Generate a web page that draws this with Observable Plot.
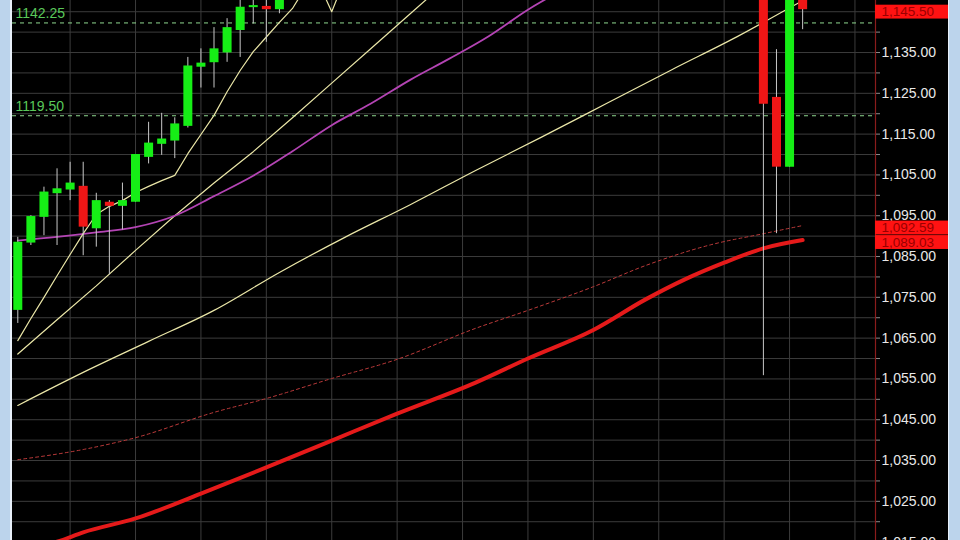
<!DOCTYPE html>
<html><head><meta charset="utf-8">
<script src="https://cdn.jsdelivr.net/npm/d3@7"></script>
<script src="https://cdn.jsdelivr.net/npm/@observablehq/plot@0.6"></script>
<style>
html,body{margin:0;padding:0;background:#bcd4ec;}
#wrap{width:960px;height:540px;box-sizing:border-box;padding-left:10px;padding-right:11px;background:#bcd4ec;overflow:hidden;}
#chart{border-left:2px solid #e8f0fa;border-right:1px solid #e8f0fa;height:540px;background:#000;}
#chart svg{display:block}
</style></head><body><div id="wrap"><div id="chart"></div></div>
<script>
// ---- candles (bar index, OHLC) ----
const candleIdx = [0,1,2,3,4,5,6,7,8,9,10,11,12,13,14,15,16,17,18,19,20,57,58,59,60];
const candleOpen  = [1071.8,1088.3,1094.6,1100.4,1101.3,1102.2,1091.8,1098.3,1097.3,1098.3,1109.3,1112.5,1113.3,1116.9,1131.4,1132.5,1134.9,1140.4,1146.0,1146.3,1145.5,1164.0,1124.0,1106.9,1152.0];
const candleHigh  = [1089.7,1095.0,1102.0,1106.5,1108.1,1108.1,1100.5,1098.7,1103.0,1110.0,1117.9,1120.1,1119.0,1133.8,1135.9,1141.1,1143.3,1148.2,1149.0,1149.0,1150.0,1167.0,1135.7,1160.0,1156.0];
const candleLow   = [1068.6,1087.7,1090.1,1087.7,1098.7,1085.2,1087.3,1080.5,1091.5,1098.3,1107.7,1109.8,1109.0,1116.5,1126.3,1126.3,1132.6,1133.8,1142.0,1137.5,1144.5,1055.8,1090.6,1106.9,1140.6];
const candleClose = [1088.5,1094.8,1100.8,1101.6,1103.0,1092.2,1098.7,1097.3,1098.7,1110.0,1112.8,1113.8,1117.5,1131.7,1132.4,1135.9,1141.1,1146.1,1146.5,1145.5,1148.5,1122.3,1106.9,1155.0,1145.5];

// ---- moving averages (bar index, value) ----
const fastIdx = [0,1,2,3,4,5,6,7,8,9,10,11,12,13,14,15,16,17,18,19,20,21,22,23,24,25,26];
const fastVal = [1064.4,1069.8,1075.0,1080.3,1085.5,1090.6,1095.3,1097.3,1098.7,1100.7,1102.2,1103.6,1104.9,1110.2,1114.9,1119.6,1125.4,1130.6,1135.2,1138.8,1142.4,1145.8,1151.0,1152.0,1145.0,1153.0,1156.0];

const medIdx = [0,3,6,9,12,15,18,21,24,27,30,33];
const medVal = [1061.1,1069.5,1077.8,1086.5,1095.0,1103.0,1110.7,1119.0,1127.5,1136.0,1144.5,1153.0];

const slowIdx = [0,5,10,15,20,25,30,35,40,45,50,55,60,61];
const slowVal = [1048.5,1056.6,1064.2,1071.8,1081.1,1089.7,1097.7,1106.1,1114.2,1122.5,1130.8,1138.9,1147.7,1149.4];

const purpleIdx = [0,3,6,9,12,15,18,21,24,27,30,33,36,39,42];
const purpleVal = [1088.9,1089.8,1090.9,1092.2,1095.0,1099.8,1104.8,1110.8,1117.2,1122.5,1128.3,1133.5,1139.0,1145.5,1151.0];

const dashRedIdx = [0,5,9,15,19,24,29,35,39,44,48,53,57,60];
const dashRedVal = [1035.2,1037.7,1040.6,1046.8,1050.2,1055.1,1059.8,1067.4,1071.8,1077.6,1082.8,1087.9,1090.6,1092.59];

const thickRedIdx = [0,3,5,9,14,19,24,29,35,39,44,48,51,54,57,60];
const thickRedVal = [1013.3,1015.1,1017.4,1020.8,1026.9,1033.3,1039.9,1046.5,1054.1,1060.0,1067.0,1074.5,1079.4,1083.5,1087.0,1089.03];

// ---- reference levels & price tags ----
const levels = [1142.25, 1119.50];
const priceTags = [1145.50, 1092.59, 1089.03];
const axisLabels = d3.range(1015, 1146, 10);
const axisMinor = d3.range(1020, 1150, 10);
const gridYTicks = d3.range(1015, 1150, 5);
const gridXTicks = d3.range(4, 66, 5);

const xMin = -0.405, xMax = 65.57, yMin = 1015.4, yMax = 1147.75;
const W = 936, MR = 73;
const pxPerIdx = (W - MR) / (xMax - xMin);

const candles = candleIdx.map((i, k) => ({i, open: candleOpen[k], high: candleHigh[k], low: candleLow[k], close: candleClose[k]}));
const toSeries = (ix, vs) => ix.map((i, k) => ({i, v: vs[k]}));
const fmt = d3.format(",.2f");
const ma = (ix, vs, o) => Plot.line(toSeries(ix, vs), {x: "i", y: "v", clip: true, ...o});

const chart = Plot.plot({
  width: W, height: 540,
  marginLeft: 0, marginRight: MR, marginTop: 0, marginBottom: 0,
  x: {domain: [xMin, xMax], axis: null},
  y: {domain: [yMin, yMax]},
  style: {background: "#000", color: "#e6e6e6", fontFamily: "'Liberation Sans', Arial, sans-serif", fontSize: "14px", overflow: "hidden"},
  marks: [
    Plot.gridY(gridYTicks, {stroke: "#3b3b3b", strokeOpacity: 1}),
    Plot.gridX(gridXTicks, {stroke: "#3b3b3b", strokeOpacity: 1}),
    Plot.ruleY(levels, {stroke: "#8fd88f", strokeDasharray: "4,4", strokeWidth: 1}),
    Plot.text(levels, {x: xMin, y: d => d, text: d => d.toFixed(2), dx: 3, dy: -9, textAnchor: "start", fill: "#5ac85a", fontSize: 14}),
    ma(thickRedIdx, thickRedVal, {stroke: "#e51a1a", strokeWidth: 4, curve: "monotone-x"}),
    ma(dashRedIdx, dashRedVal, {stroke: "#bb3a3a", strokeWidth: 1, strokeDasharray: "3,3", curve: "monotone-x"}),
    ma(slowIdx, slowVal, {stroke: "#ebe7a8", strokeWidth: 1.2, curve: "monotone-x"}),
    ma(medIdx, medVal, {stroke: "#ebe7a8", strokeWidth: 1.2}),
    ma(purpleIdx, purpleVal, {stroke: "#b444b4", strokeWidth: 1.8, curve: "monotone-x"}),
    ma(fastIdx, fastVal, {stroke: "#ebe7a8", strokeWidth: 1.2}),
    Plot.ruleX(candles, {x: "i", y1: "low", y2: "high", stroke: "#c8c8c8", strokeWidth: 1, clip: true}),
    Plot.ruleX(candles.filter(d => d.close >= d.open), {x: "i", y1: "open", y2: "close", stroke: "#16ee16", strokeWidth: 9, clip: true}),
    Plot.ruleX(candles.filter(d => d.close < d.open), {x: "i", y1: "open", y2: "close", stroke: "#f01616", strokeWidth: 9, clip: true}),
    Plot.ruleX([xMax], {stroke: "#8a1c1c", strokeWidth: 1.2}),
    Plot.axisY(axisMinor, {anchor: "right", tickSize: 4, tickFormat: () => "", stroke: "#8a8a8a", label: null}),
    Plot.axisY(axisLabels, {anchor: "right", tickSize: 4, tickPadding: 2, tickFormat: fmt, stroke: "#8a8a8a", fill: "#e8e8e8", fontSize: 14, label: null}),
    Plot.rect(priceTags, {x1: xMax, x2: xMax + MR / pxPerIdx, y1: d => d + 1.1, y2: d => d - 2.3, fill: "#ff1212"}),
    Plot.text(priceTags, {x: xMax, y: d => d - 0.6, text: d => fmt(d), dx: 6, textAnchor: "start", fill: "#9a0000", fontSize: 13.5})
  ]
});
document.getElementById("chart").appendChild(chart);
</script></body></html>
